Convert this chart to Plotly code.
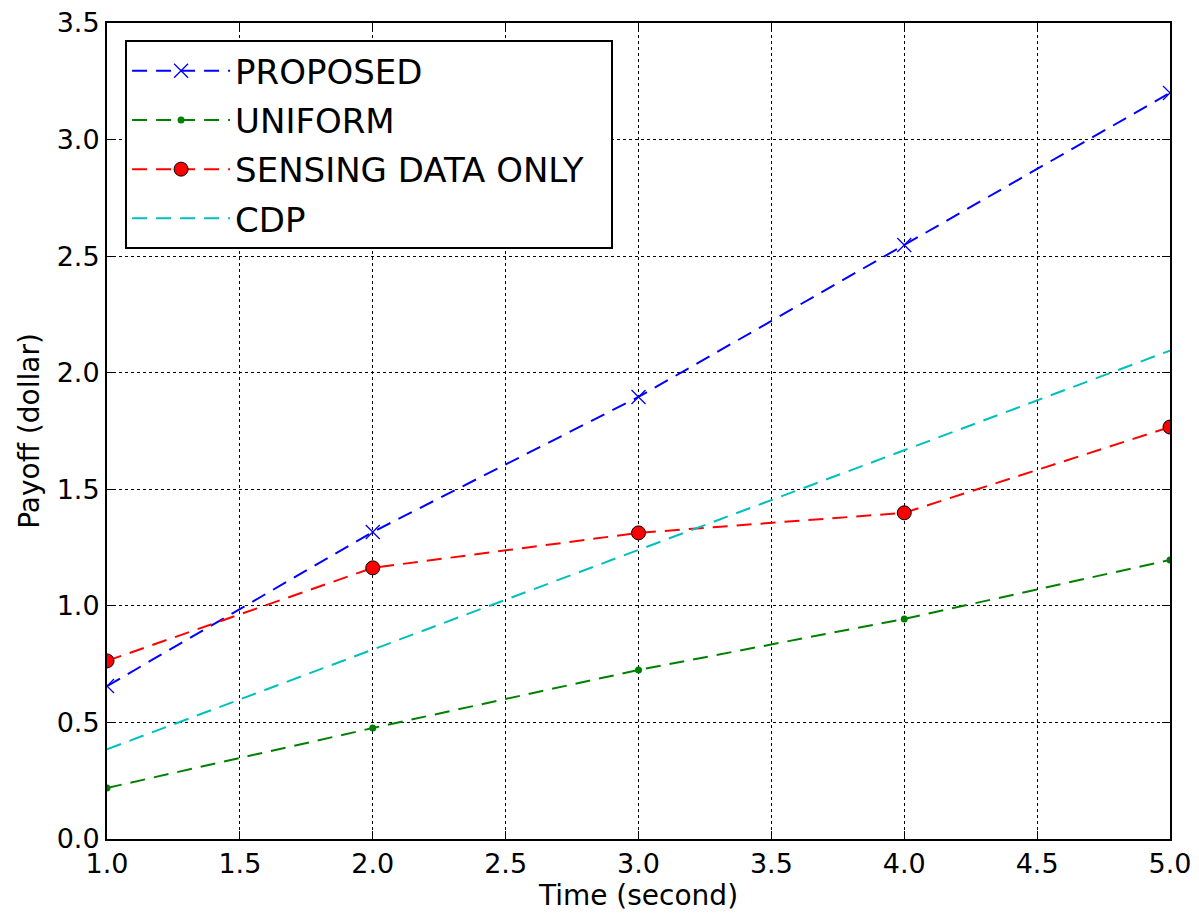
import plotly.graph_objects as go

time = [1, 2, 3, 4, 5]
proposed = [0.656, 1.317, 1.896, 2.548, 3.20]
uniform = [0.219, 0.476, 0.725, 0.944, 1.197]
sensing = [0.764, 1.163, 1.313, 1.399, 1.767]
cdp = [0.385, 0.813, 1.24, 1.67, 2.095]

x_ticks = [1.0, 1.5, 2.0, 2.5, 3.0, 3.5, 4.0, 4.5, 5.0]
y_ticks = [0.0, 0.5, 1.0, 1.5, 2.0, 2.5, 3.0, 3.5]

dash = "15px,9px"
fig = go.Figure()
fig.add_trace(go.Scatter(x=time, y=proposed, name="PROPOSED", mode="lines+markers", legendgroup="a",
                         line=dict(color="#0000ff", width=2, dash=dash),
                         marker=dict(symbol="x-thin", size=14, line=dict(color="#0000ff", width=1.3))))
fig.add_trace(go.Scatter(x=time, y=uniform, name="UNIFORM", mode="lines+markers", legendgroup="b",
                         line=dict(color="#008000", width=2, dash=dash),
                         marker=dict(symbol="circle", size=7, color="#008000")))
fig.add_trace(go.Scatter(x=time, y=sensing, name="SENSING DATA ONLY\u00a0\u00a0", mode="lines+markers", legendgroup="c",
                         line=dict(color="#ff0000", width=2, dash=dash),
                         marker=dict(symbol="circle", size=14, color="#ff0000",
                                     line=dict(color="black", width=1))))
fig.add_trace(go.Scatter(x=time, y=cdp, name="CDP", mode="lines", legendgroup="d",
                         line=dict(color="#00bfbf", width=2, dash=dash)))

axis_common = dict(
    showline=True, linecolor="black", linewidth=2, mirror="ticks",
    ticks="inside", ticklen=8, tickwidth=1, tickcolor="black",
    showgrid=True, gridcolor="black", gridwidth=1, griddash="dot",
    zeroline=False, tickfont=dict(size=27, color="black", family="DejaVu Sans"),
    ticklabeloverflow="allow", automargin=False,
)
fig.update_xaxes(range=[1, 5], tickvals=x_ticks, ticktext=[f"{v:.1f}" for v in x_ticks],
                 title=dict(text="Time (second)", font=dict(size=28, family="DejaVu Sans", color="black"), standoff=4),
                 **axis_common)
fig.update_yaxes(range=[0, 3.5], tickvals=y_ticks, ticktext=[f"{v:.1f}" for v in y_ticks],
                 title=dict(text="Payoff (dollar)", font=dict(size=28, family="DejaVu Sans", color="black"), standoff=9),
                 **axis_common)
fig.update_layout(
    width=1199, height=920,
    paper_bgcolor="white", plot_bgcolor="white",
    margin=dict(l=99, r=37, t=15, b=89),
    font=dict(family="DejaVu Sans", color="black"),
    legend=dict(x=0.017, y=0.979, xanchor="left", yanchor="top",
                bordercolor="black", borderwidth=2, bgcolor="white",
                font=dict(size=34, color="black"), itemwidth=98,
                tracegroupgap=2),
    showlegend=True,
)
fig.write_html("out.html")
